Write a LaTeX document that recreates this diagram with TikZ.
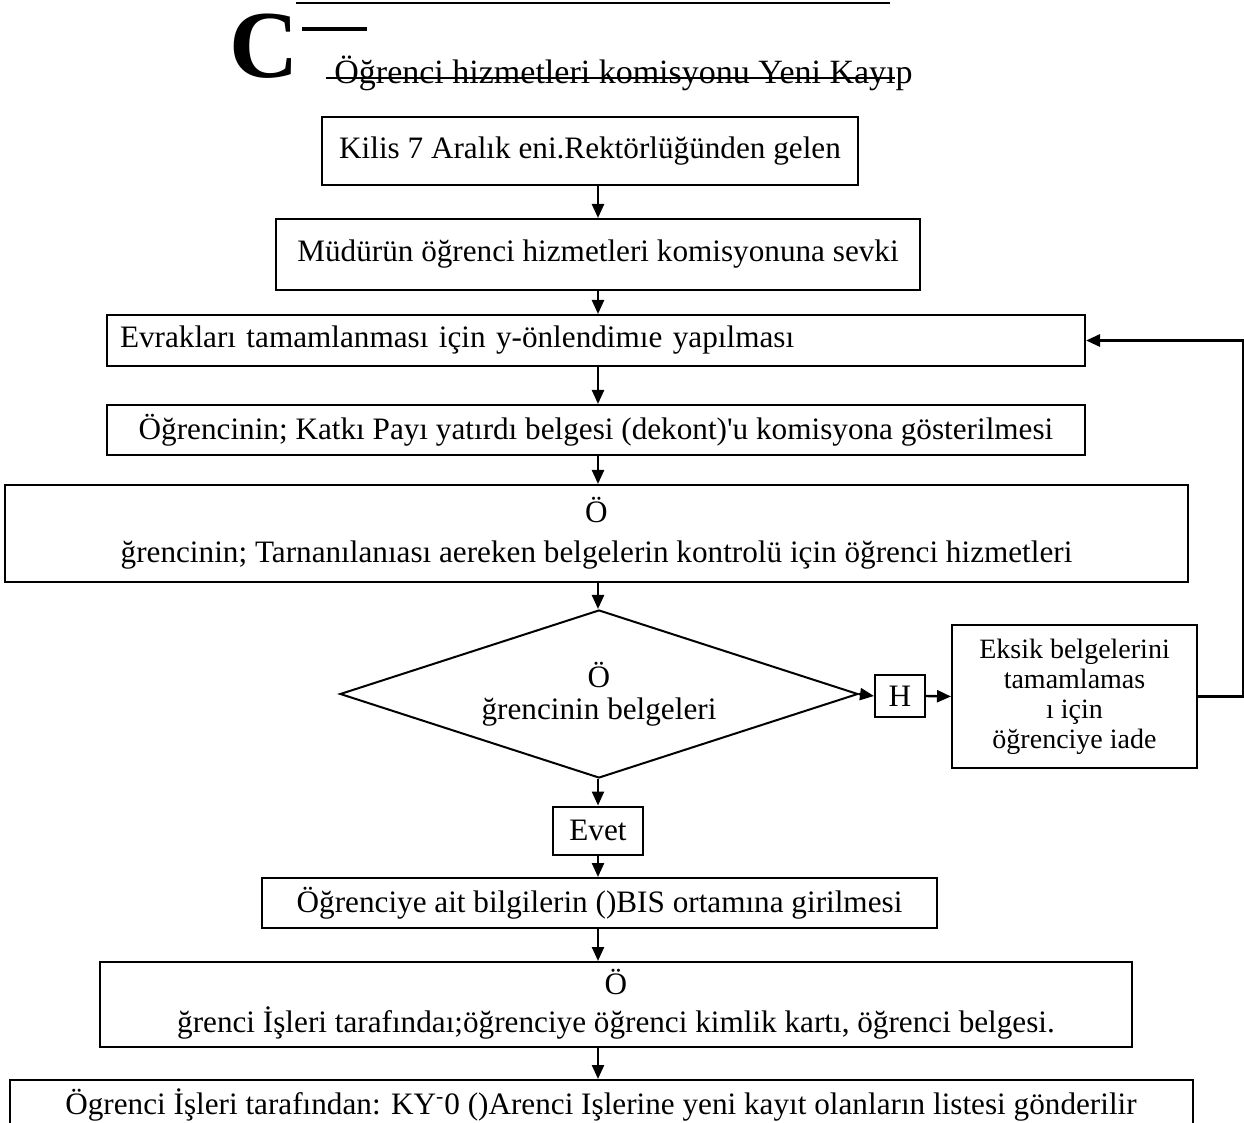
\documentclass[tikz,border=0pt]{standalone}
\usepackage{fontspec}
\setmainfont{Liberation Serif}[Ligatures=TeXOff]
\usetikzlibrary{arrows.meta,shapes.geometric}
\begin{document}
\begin{tikzpicture}[x=0.5pt,y=-0.5pt,
  box/.style={draw,line width=1pt,inner sep=0pt,align=center,font=\fontsize{15.6}{20}\selectfont},
  arr/.style={line width=1.2pt,-{Triangle[length=7pt,width=6pt]}},
  ]
\useasboundingbox (0,0) rectangle (1244,1123);
\coordinate (axis) at (598,0);
% header
\coordinate (tl1) at (296,3);
\coordinate (tl2) at (890,3);
\draw[line width=1pt] (tl1) -- (tl2);
\node[anchor=base west,inner sep=0pt,font=\fontsize{48}{48}\selectfont\bfseries] (bigc) at (229,78) {C};
\coordinate (c1) at (302,29);
\coordinate (c2) at (367,29);
\draw[line width=1.7pt] (c1) -- (c2);
\node[anchor=base west,inner sep=0pt,font=\fontsize{17}{20}\selectfont] (title) at (334,84) {Öğrenci hizmetleri komisyonu Yeni Kayıp};
\coordinate (s1) at (326,78);
\coordinate (s2) at (895,78);
\draw[line width=0.8pt] (s1) -- (s2);
% boxes
\node[box,minimum width=268pt,minimum height=34pt] (b1) at (590,151) {Kilis 7 Aralık eni.Rektörlüğünden gelen};
\node[box,minimum width=322pt,minimum height=35.5pt] (b2) at (598,254.5) {Müdürün öğrenci hizmetleri komisyonuna sevki};
\node[box,minimum width=489pt,minimum height=25.5pt,text width=476pt,align=left] (b3) at (596,340.5) {Evrakları tamamlanması için y-önlendimıe yapılması};
\node[box,minimum width=489pt,minimum height=25pt] (b4) at (596,430) {Öğrencinin; Katkı Payı yatırdı belgesi (dekont)'u komisyona gösterilmesi};
\node[box,minimum width=591.5pt,minimum height=48.5pt] (b5) at (596.5,533.5) {Ö\\ğrencinin; Tarnanılanıası aereken belgelerin kontrolü için öğrenci hizmetleri};
\node[box,shape=diamond,shape aspect=3.08,minimum width=259pt,minimum height=84pt,font=\fontsize{15.6}{16}\selectfont] (d) at (599,694) {Ö\\ğrencinin belgeleri};
\node[box,minimum width=25pt,minimum height=21pt] (h) at (900,696) {H};
\node[box,minimum width=122.5pt,minimum height=71.5pt,font=\fontsize{14}{15}\selectfont] (e) at (1074.5,696.5) {Eksik belgelerini\\tamamlamas\\ı için\\öğrenciye iade};
\node[box,minimum width=45pt,minimum height=24pt] (ev) at (598,830.5) {Evet};
\node[box,minimum width=337.5pt,minimum height=25pt] (b6) at (599.5,903) {Öğrenciye ait bilgilerin ()BIS ortamına girilmesi};
\node[box,minimum width=516pt,minimum height=42.5pt,font=\fontsize{15.6}{19}\selectfont] (b7) at (616,1004.5) {Ö\\ğrenci İşleri tarafındaı;öğrenciye öğrenci kimlik kartı, öğrenci belgesi.};
\node[box,anchor=north,minimum width=591.5pt,text height=11pt,text depth=4pt,inner ysep=6pt] (b8) at (601,1079) {Ögrenci İşleri tarafından: KY\textsuperscript{-}0 ()Arenci Işlerine yeni kayıt olanların listesi gönderilir};
% connectors
\draw[arr] (b1.south -| axis) -- (b2.north -| axis);
\draw[arr] (b2.south -| axis) -- (b3.north -| axis);
\draw[arr] (b3.south -| axis) -- (b4.north -| axis);
\draw[arr] (b4.south -| axis) -- (b5.north -| axis);
\draw[arr] (b5.south -| axis) -- (d.north -| axis);
\draw[arr] (d.south -| axis) -- (ev.north -| axis);
\draw[arr] (ev.south -| axis) -- (b6.north -| axis);
\draw[arr] (b6.south -| axis) -- (b7.north -| axis);
\draw[arr] (b7.south -| axis) -- (b8.north -| axis);
\draw[arr] (d.east) -- (h.west);
\draw[arr] (h.east) -- (e.west);
\draw[arr,line width=1.4pt] (e.east) -- ++(45,0) |- (b3.east);
\end{tikzpicture}
\end{document}
